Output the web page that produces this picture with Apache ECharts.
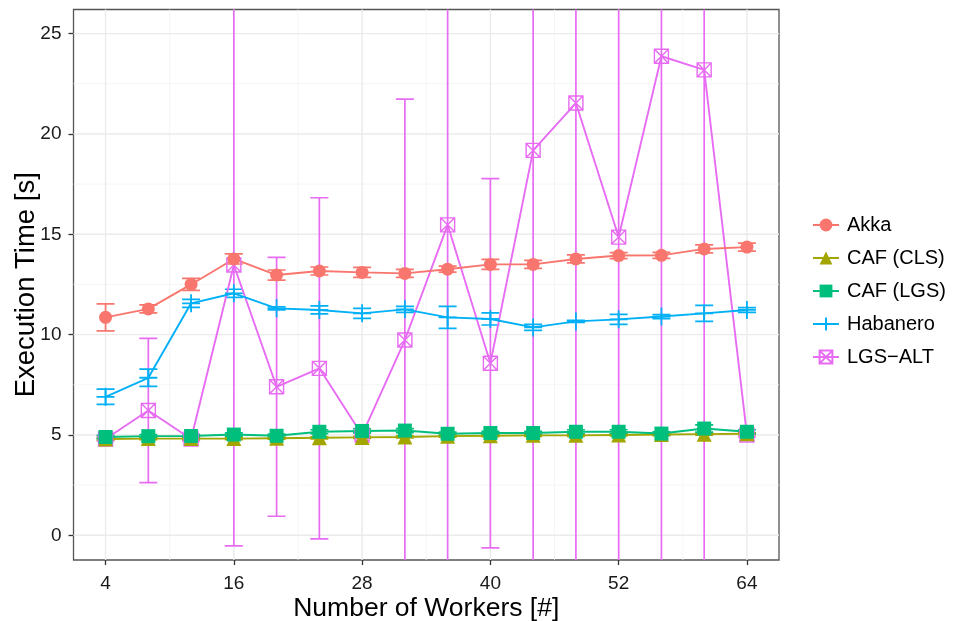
<!DOCTYPE html>
<html>
<head>
<meta charset="utf-8">
<script src="https://cdn.jsdelivr.net/npm/echarts@6/dist/echarts.min.js"></script>
<style>
html,body{margin:0;padding:0;background:#fff;}
#chart{width:953px;height:621px;}
</style>
</head>
<body>
<div id="chart"></div>
<script>
// ---- data ----
const workers = [4, 8, 12, 16, 20, 24, 28, 32, 36, 40, 44, 48, 52, 56, 60, 64];
const xTicks = [4, 16, 28, 40, 52, 64];
const xMinor = [10, 22, 34, 46, 58];
const yTicks = [0, 5, 10, 15, 20, 25];
const yMinor = [2.5, 7.5, 12.5, 17.5, 22.5];

const akka     = [10.86, 11.28, 12.5, 13.77, 12.97, 13.17, 13.1, 13.05, 13.26, 13.5, 13.5, 13.77, 13.94, 13.95, 14.27, 14.36];
const akkaErr  = [0.67, 0.2, 0.3, 0.25, 0.25, 0.2, 0.25, 0.2, 0.15, 0.25, 0.2, 0.2, 0.15, 0.15, 0.2, 0.2];
const cafCls   = [4.8, 4.82, 4.82, 4.82, 4.84, 4.86, 4.88, 4.9, 4.94, 4.96, 4.98, 4.98, 5.0, 5.02, 5.04, 5.06];
const cafClsErr= [0.05, 0.05, 0.05, 0.05, 0.05, 0.05, 0.05, 0.05, 0.05, 0.05, 0.05, 0.05, 0.05, 0.05, 0.05, 0.05];
const cafLgs   = [4.9, 4.94, 4.95, 5.02, 4.96, 5.16, 5.2, 5.22, 5.06, 5.1, 5.1, 5.16, 5.16, 5.07, 5.32, 5.16];
const cafLgsErr= [0.08, 0.08, 0.08, 0.08, 0.08, 0.1, 0.1, 0.1, 0.08, 0.08, 0.08, 0.1, 0.1, 0.08, 0.18, 0.1];
const habanero = [6.9, 7.85, 11.56, 12.06, 11.31, 11.23, 11.06, 11.26, 10.86, 10.78, 10.36, 10.66, 10.76, 10.9, 11.06, 11.23];
const habErr   = [0.38, 0.43, 0.2, 0.2, 0.08, 0.2, 0.25, 0.15, 0.55, 0.3, 0.15, 0.05, 0.25, 0.1, 0.4, 0.12];
const lgsAlt   = [4.8, 6.22, 4.8, 13.47, 7.4, 8.32, 5.0, 9.73, 15.47, 8.57, 19.18, 21.54, 14.86, 23.87, 23.19, 5.0];
const lgsAltErr= [0.1, 3.59, 0.1, 14.0, 6.45, 8.5, 0.1, 12.0, 17.5, 9.2, 21, 23, 17, 26, 26, 0.1];

const names  = ['Akka', 'CAF (CLS)', 'CAF (LGS)', 'Habanero', 'LGS\u2212ALT'];
const colors = ['#F8766D', '#A3A500', '#00BF7D', '#00B0F6', '#E76BF3'];
// ---- end data ----

const FONT = '"Liberation Sans", Arial, Helvetica, sans-serif';
const values = [akka, cafCls, cafLgs, habanero, lgsAlt];
const errs = [akkaErr, cafClsErr, cafLgsErr, habErr, lgsAltErr];

const symbols = [
  {symbol: 'circle', size: 13, style: {}},
  {symbol: 'triangle', size: 15, style: {}},
  {symbol: 'rect', size: 14, style: {}},
  {symbol: 'path://M0,-10 L0,10 M-10,0 L10,0', size: 18, style: {color: 'rgba(0,0,0,0)', borderWidth: 1.8}},
  {symbol: 'path://M0,0 L10,0 L10,10 L0,10 Z M0,0 L10,10 M10,0 L0,10', size: 14, style: {color: 'rgba(0,0,0,0)', borderWidth: 1.4}}
];

function errSeries(i) {
  const data = workers.map((x, k) => [x, values[i][k] - errs[i][k], values[i][k] + errs[i][k]]);
  return {
    type: 'custom',
    name: names[i] + ' err',
    clip: true,
    silent: true,
    z: 3,
    data: data,
    encode: {x: 0, y: [1, 2]},
    renderItem: function (params, api) {
      const x = api.value(0);
      const lo = api.coord([x, api.value(1)]);
      const hi = api.coord([x, api.value(2)]);
      const hw = 9;
      const st = {stroke: colors[i], lineWidth: 1.7, fill: 'none'};
      return {
        type: 'group',
        children: [
          {type: 'line', shape: {x1: lo[0], y1: lo[1], x2: hi[0], y2: hi[1]}, style: st},
          {type: 'line', shape: {x1: lo[0] - hw, y1: lo[1], x2: lo[0] + hw, y2: lo[1]}, style: st},
          {type: 'line', shape: {x1: hi[0] - hw, y1: hi[1], x2: hi[0] + hw, y2: hi[1]}, style: st}
        ]
      };
    }
  };
}

function lineSeries(i) {
  const s = symbols[i];
  return {
    type: 'line',
    name: names[i],
    data: workers.map((x, k) => [x, values[i][k]]),
    symbol: s.symbol,
    symbolSize: s.size,
    showSymbol: true,
    z: 4,
    lineStyle: {color: colors[i], width: 1.9},
    itemStyle: Object.assign({color: colors[i], borderColor: colors[i], borderWidth: 0, opacity: 1}, s.style),
    emphasis: {disabled: true}
  };
}

// grid lines: [orientation(0 = horizontal at y, 1 = vertical at x), value, major(1)/minor(0)]
const gridData = [].concat(
  yMinor.map(v => [0, v, 0]),
  xMinor.map(v => [1, v, 0]),
  yTicks.map(v => [0, v, 1]),
  xTicks.map(v => [1, v, 1])
);
const gridSeries = {
  type: 'custom',
  name: 'grid',
  silent: true,
  clip: false,
  z: 1,
  data: gridData,
  encode: {x: -1, y: -1},
  renderItem: function (params, api) {
    const cs = params.coordSys;
    const vert = api.value(0) === 1;
    const v = api.value(1);
    const major = api.value(2) === 1;
    const st = {stroke: major ? '#EBEBEB' : '#F3F3F3', lineWidth: major ? 1.4 : 0.8, fill: 'none'};
    let shape;
    if (vert) {
      const p = api.coord([v, 0]);
      shape = {x1: p[0], y1: cs.y, x2: p[0], y2: cs.y + cs.height};
    } else {
      const p = api.coord([4, v]);
      shape = {x1: cs.x, y1: p[1], x2: cs.x + cs.width, y2: p[1]};
    }
    return {type: 'line', shape: shape, style: st};
  }
};

// draw order: LGS-ALT first so others lie on top
const order = [4, 0, 1, 2, 3];
const series = [gridSeries]
  .concat(order.map(errSeries))
  .concat(order.map(lineSeries));

const chart = echarts.init(document.getElementById('chart'), null, {renderer: 'canvas'});
chart.setOption({
  animation: false,
  backgroundColor: '#ffffff',
  textStyle: {fontFamily: FONT},
  grid: {
    left: 73.5, top: 9.5, width: 705.5, height: 550.5,
    outerBoundsMode: 'none',
    containLabel: false,
    show: true, borderColor: '#555555', borderWidth: 1.3, backgroundColor: 'transparent'
  },
  legend: {
    data: names,
    orient: 'vertical',
    left: 807,
    top: 210,
    itemWidth: 26,
    itemHeight: 16,
    itemGap: 13,
    selectedMode: false,
    textStyle: {fontSize: 20, color: '#000', fontFamily: FONT, padding: [0, 0, 0, 3]}
  },
  xAxis: {
    type: 'value',
    min: 1, max: 67,
    position: 'bottom',
    name: 'Number of Workers [#]',
    nameLocation: 'middle',
    nameGap: 35,
    nameMoveOverlap: false,
    nameTextStyle: {fontSize: 26.5, color: '#000', fontFamily: FONT},
    axisLine: {show: false, onZero: false},
    splitLine: {show: false},
    axisTick: {show: true, length: 5, lineStyle: {color: '#333', width: 1.3}, customValues: xTicks},
    axisLabel: {customValues: xTicks, fontSize: 19, color: '#1a1a1a', margin: 14, fontFamily: FONT}
  },
  yAxis: {
    type: 'value',
    min: -1.23, max: 26.2,
    position: 'left',
    name: 'Execution Time [s]',
    nameLocation: 'middle',
    nameGap: 33,
    nameMoveOverlap: false,
    nameTextStyle: {fontSize: 27.5, color: '#000', fontFamily: FONT},
    axisLine: {show: false, onZero: false},
    splitLine: {show: false},
    axisTick: {show: true, length: 5, lineStyle: {color: '#333', width: 1.3}, customValues: yTicks},
    axisLabel: {customValues: yTicks, fontSize: 19, color: '#1a1a1a', margin: 12, fontFamily: FONT}
  },
  series: series
});
</script>
</body>
</html>
